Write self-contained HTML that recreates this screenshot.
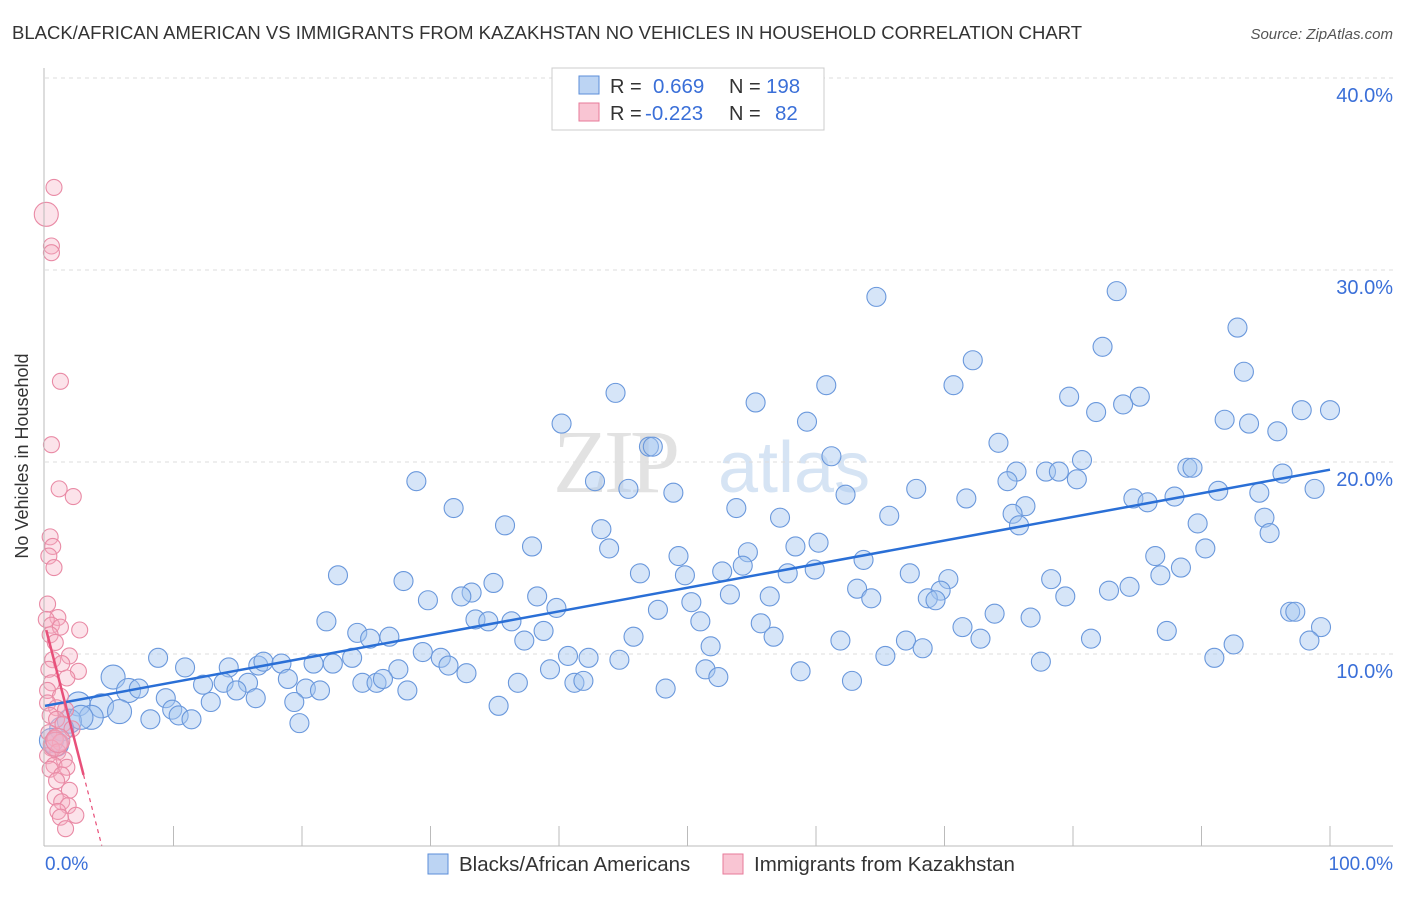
<!DOCTYPE html>
<html><head><meta charset="utf-8"><style>
body{margin:0;background:#fff;font-family:"Liberation Sans",sans-serif}
</style></head><body>
<svg id="c" width="1406" height="892" xmlns="http://www.w3.org/2000/svg">
<text x="12" y="39" font-size="18.5" fill="#333">BLACK/AFRICAN AMERICAN VS IMMIGRANTS FROM KAZAKHSTAN NO VEHICLES IN HOUSEHOLD CORRELATION CHART</text>
<text x="1393" y="39" font-size="15" fill="#555" font-style="italic" text-anchor="end">Source: ZipAtlas.com</text>
<text x="28" y="456" font-size="18" fill="#333" text-anchor="middle" transform="rotate(-90 28 456)">No Vehicles in Household</text>
<g><text x="553" y="492" font-size="90" fill="#e2e2e2" font-family="Liberation Serif,serif" letter-spacing="-4">ZIP</text><text x="718" y="492" font-size="72" fill="#d6e4f4">atlas</text></g>
<g id="grid"></g><g id="pts"></g><g id="lines"></g>
<line x1="44" y1="68" x2="44" y2="846" stroke="#bbb"/>
<line x1="44" y1="846" x2="1393" y2="846" stroke="#bbb"/>
<text x="45" y="870" font-size="19" fill="#3a6fd8">0.0%</text>
<text x="1393" y="870" font-size="19" fill="#3a6fd8" text-anchor="end">100.0%</text>
<g>
<rect x="552" y="68" width="272" height="62" fill="#fff" stroke="#ccc"/>
<rect x="579" y="76" width="20" height="18" fill="#bcd4f3" stroke="#5b8ed8"/>
<rect x="579" y="103" width="20" height="18" fill="#f9c5d3" stroke="#e77a9a"/>
<text x="610" y="93" font-size="20" fill="#333">R =</text><text x="653" y="93" font-size="20.5" fill="#3a6fd8">0.669</text>
<text x="729" y="93" font-size="20" fill="#333">N =</text><text x="766" y="93" font-size="20.5" fill="#3a6fd8">198</text>
<text x="610" y="120" font-size="20" fill="#333">R =</text><text x="645" y="120" font-size="20.5" fill="#3a6fd8">-0.223</text>
<text x="729" y="120" font-size="20" fill="#333">N =</text><text x="775" y="120" font-size="20.5" fill="#3a6fd8">82</text>
</g>
<g>
<rect x="428" y="854" width="20" height="20" fill="#bcd4f3" stroke="#5b8ed8"/>
<text x="459" y="871" font-size="20.5" fill="#333">Blacks/African Americans</text>
<rect x="723" y="854" width="20" height="20" fill="#f9c5d3" stroke="#e77a9a"/>
<text x="754" y="871" font-size="20.5" fill="#333">Immigrants from Kazakhstan</text>
</g>
</svg>
<script>
const yTicks=[10,20,30,40];
const blueX=[64.7,83.4,92.8,82.3,72.2,93.3,60.8,70.7,44.4,55.3,79.7,85.2,83.9,81.8,97.8,100,59.3,40.2,91.8,93.7,95.9,47.0,47.3,74.2,61.2,80.7,88.9,89.3,77.9,78.9,75.6,80.3,96.3,28.9,42.8,45.4,48.9,62.3,67.8,74.9,71.7,84.7,85.8,87.9,91.3,94.5,98.8,31.8,53.8,65.7,57.2,76.3,75.3,94.9,89.7,75.8,35.8,43.3,95.3,37.9,43.9,54.7,58.4,60.2,63.7,86.4,90.3,49.3,54.3,52.7,57.8,59.9,88.4,22.8,46.3,49.8,67.3,27.9,86.8,78.3,70.3,34.9,33.2,32.4,69.7,63.2,82.8,84.4,38.3,53.3,56.4,64.3,29.8,50.3,68.7,69.3,79.4,39.8,47.7,73.9,76.7,21.9,33.5,34.5,36.3,51.0,55.7,96.9,97.3,24.3,25.3,26.8,38.8,45.8,56.7,61.9,67.0,71.4,72.8,81.4,87.3,99.3,92.5,98.4,8.8,23.9,22.4,29.4,30.8,37.3,40.7,42.3,44.7,51.8,65.4,68.3,77.5,91.0,10.9,14.3,16.6,17.0,18.4,20.9,27.5,31.4,32.8,39.3,51.4,58.8,52.4,5.3,12.3,13.9,15.8,18.9,24.7,25.8,26.3,41.2,41.9,36.8,62.8,6.5,7.3,14.9,20.3,21.4,28.2,48.3,9.4,16.4,19.4,12.9,2.6,4.4,9.9,5.8,3.6,8.2,10.4,11.4,19.8,35.3,1.9,2.8,1.3,0.5,0.9];
const blueY=[28.6,28.9,27.0,26.0,25.3,24.7,24.0,24.0,23.6,23.1,23.4,23.4,23.0,22.6,22.7,22.7,22.1,22.0,22.2,22.0,21.6,20.8,20.8,21.0,20.3,20.1,19.7,19.7,19.5,19.5,19.5,19.1,19.4,19.0,19.0,18.6,18.4,18.3,18.6,19.0,18.1,18.1,17.9,18.2,18.5,18.4,18.6,17.6,17.6,17.2,17.1,17.7,17.3,17.1,16.8,16.7,16.7,16.5,16.3,15.6,15.5,15.3,15.6,15.8,14.9,15.1,15.5,15.1,14.6,14.3,14.2,14.4,14.5,14.1,14.2,14.1,14.2,13.8,14.1,13.9,13.9,13.7,13.2,13.0,13.3,13.4,13.3,13.5,13.0,13.1,13.0,12.9,12.8,12.7,12.9,12.8,13.0,12.4,12.3,12.1,11.9,11.7,11.8,11.7,11.7,11.7,11.6,12.2,12.2,11.1,10.8,10.9,11.2,10.9,10.9,10.7,10.7,11.4,10.8,10.8,11.2,11.4,10.5,10.7,9.8,9.8,9.5,10.1,9.8,10.7,9.9,9.8,9.7,10.4,9.9,10.3,9.6,9.8,9.3,9.3,9.4,9.6,9.5,9.5,9.2,9.4,9.0,9.2,9.2,9.1,8.8,8.8,8.4,8.5,8.5,8.7,8.5,8.5,8.7,8.5,8.6,8.5,8.6,8.1,8.2,8.1,8.2,8.1,8.1,8.2,7.7,7.7,7.5,7.5,7.4,7.3,7.1,7.0,6.7,6.6,6.8,6.6,6.4,7.3,6.5,6.7,6.1,5.5,5.3];
const pinkX=[0.7,0.1,0.5,0.5,1.2,0.5,1.1,2.2,0.4,0.6,0.3,0.7,0.2,1.0,0.1,0.5,1.2,2.7,0.4,0.8,1.9,0.6,1.3,0.3,2.6,1.7,0.5,0.2,1.2,0.2,0.9,1.6,0.4,0.9,1.4,2.1,0.3,0.8,1.2,0.5,1.0,0.2,1.5,0.7,0.4,1.7,1.3,0.9,1.9,0.8,1.3,1.8,1.0,2.4,1.2,1.6,0.8,1.0];
const pinkY=[34.3,32.9,31.25,30.9,24.2,20.9,18.6,18.2,16.1,15.6,15.1,14.5,12.6,11.9,11.8,11.5,11.4,11.25,11.0,10.6,9.9,9.7,9.5,9.2,9.1,8.75,8.5,8.1,7.8,7.45,7.2,7.1,6.8,6.6,6.35,6.1,5.9,5.6,5.4,5.1,4.9,4.7,4.5,4.2,4.0,4.1,3.7,3.4,2.9,2.55,2.3,2.1,1.8,1.6,1.5,0.9,5.3,5.5];
const blueTrend=[7.3,19.6];
const pinkTrend=[11.5,-2.6];
const NS="http://www.w3.org/2000/svg";
const X=v=>45+v*12.85, Y=v=>846-v*19.2;
function mk(t,a,p){const e=document.createElementNS(NS,t);for(const k in a)e.setAttribute(k,a[k]);p.appendChild(e);return e;}
const grid=document.getElementById('grid'),pts=document.getElementById('pts'),lines=document.getElementById('lines'),svg=document.getElementById('c');
yTicks.forEach(t=>{
 const l=mk('line',{x1:45,x2:1393,y1:Y(t),y2:Y(t),stroke:'#ddd','stroke-dasharray':'4,4'},grid);
 
 
 const tx=mk('text',{x:1393,y:Y(t)+24,'font-size':20,fill:'#3a6fd8','text-anchor':'end'},svg);
 tx.textContent=t.toFixed(1)+'%';
 
 
});
for(let i=1;i<=10;i++){
 const l=mk('line',{x1:45+i*128.5,x2:45+i*128.5,y1:826,y2:846,stroke:'#bbb'},grid);
 
 
}
blueX.forEach((x,i)=>{
 const c=mk('circle',{cx:X(x),cy:Y(blueY[i]),r:x<7?12:9.5,fill:'rgba(165,198,240,0.45)',stroke:'#6a98dc','stroke-width':1.1},pts);
 
 
});
pinkX.forEach((x,i)=>{
 const c=mk('circle',{cx:X(x),cy:Y(pinkY[i]),r:(i==1||i>=56)?12:8,fill:'rgba(246,175,196,0.35)',stroke:'#e98aa5','stroke-width':1.1},pts);
 
 
});
const bl=mk('line',{x1:X(0),y1:Y(blueTrend[0]),x2:X(100),y2:Y(blueTrend[1]),stroke:'#2a6fd6','stroke-width':2.5},lines);


const pe=-pinkTrend[0]/pinkTrend[1];
const p1=mk('line',{x1:X(0.1),y1:Y(pinkTrend[0]+pinkTrend[1]*0.1),x2:X(3),y2:Y(pinkTrend[0]+pinkTrend[1]*3),stroke:'#e8507a','stroke-width':2.5},lines);


const p2=mk('line',{x1:X(3),y1:Y(pinkTrend[0]+pinkTrend[1]*3),x2:X(pe),y2:Y(0),stroke:'#e8507a','stroke-width':1.2,'stroke-dasharray':'4,4'},lines);


</script>
</body></html>
